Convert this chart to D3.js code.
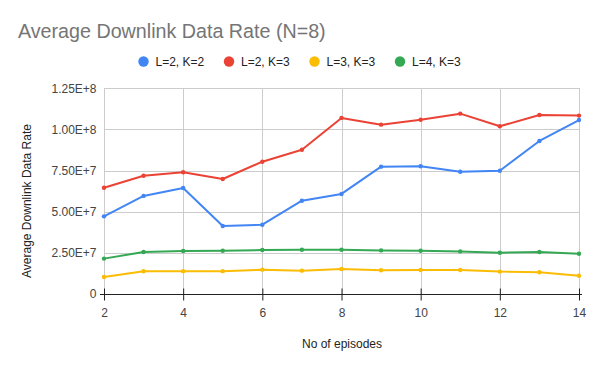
<!DOCTYPE html>
<html><head><meta charset="utf-8">
<script src="https://cdn.jsdelivr.net/npm/d3@7"></script>
<style>body{margin:0;background:#fff}svg{display:block;font-family:"Liberation Sans",Arial,sans-serif}</style>
</head><body>
<svg id="c" width="600" height="371"></svg>
<script>
const episodes = [2,3,4,5,6,7,8,9,10,11,12,13,14];
const seriesNames = ["L=2, K=2","L=2, K=3","L=3, K=3","L=4, K=3"];
const seriesColors = ["#4285f4","#ea4335","#fbbc04","#34a853"];
const l2k2 = [4.72e7,5.96e7,6.44e7,4.13e7,4.21e7,5.67e7,6.08e7,7.74e7,7.76e7,7.43e7,7.49e7,9.30e7,1.057e8];
const l2k3 = [6.46e7,7.19e7,7.40e7,6.99e7,8.04e7,8.77e7,1.07e8,1.029e8,1.059e8,1.096e8,1.019e8,1.088e8,1.084e8];
const l3k3 = [1.03e7,1.38e7,1.39e7,1.39e7,1.48e7,1.42e7,1.52e7,1.44e7,1.46e7,1.46e7,1.36e7,1.32e7,1.11e7];
const l4k3 = [2.15e7,2.55e7,2.61e7,2.63e7,2.67e7,2.69e7,2.69e7,2.65e7,2.63e7,2.59e7,2.51e7,2.55e7,2.45e7];
const yTicks = [0,2.5e7,5e7,7.5e7,1e8,1.25e8];
const yTickLabels = ["0","2.50E+7","5.00E+7","7.50E+7","1.00E+8","1.25E+8"];
const xTicks = [2,4,6,8,10,12,14];
const allSeries = [l2k2,l2k3,l3k3,l4k3];

const svg = d3.select("#c");
const x = d3.scaleLinear().domain([2,14]).range([104,579]);
const y = d3.scaleLinear().domain([0,1.25e8]).range([294,88.3]);

svg.append("text").attr("x",18).attr("y",38).attr("font-size",19.7).attr("fill","#757575").text("Average Downlink Data Rate (N=8)");

// grid
const g = svg.append("g");
g.selectAll("line.h").data(yTicks.slice(1)).enter().append("line")
 .attr("x1",104).attr("x2",579).attr("y1",d=>Math.round(y(d))+0.5).attr("y2",d=>Math.round(y(d))+0.5)
 .attr("stroke","#cccccc").attr("stroke-width",1);
g.selectAll("line.v").data(xTicks).enter().append("line")
 .attr("x1",d=>Math.round(x(d))+0.5).attr("x2",d=>Math.round(x(d))+0.5).attr("y1",88).attr("y2",294)
 .attr("stroke","#cccccc").attr("stroke-width",1);

// y tick labels
g.selectAll("text.yt").data(yTicks).enter().append("text")
 .attr("x",96.5).attr("y",d=>y(d)+4.2).attr("text-anchor","end").attr("font-size",12).attr("fill","#444")
 .text((d,i)=>yTickLabels[i]);

// x axis
const xa = svg.append("g").attr("transform","translate(0,294.5)")
 .call(d3.axisBottom(x).tickValues(xTicks).tickSize(6).tickPadding(6).tickFormat(d3.format("d")));
xa.select(".domain").attr("stroke","#222").attr("d","M100,0H582");
xa.selectAll(".tick line").attr("stroke","#222").attr("y1",-6).attr("y2",6);
xa.selectAll(".tick text").attr("font-size",12).attr("fill","#444").attr("font-family","Liberation Sans, Arial, sans-serif").attr("dy",0).attr("y",22.5);

// axis titles
svg.append("text").attr("x",342).attr("y",348.3).attr("text-anchor","middle").attr("font-size",12).attr("fill","#222").text("No of episodes");
svg.append("text").attr("transform","translate(30.5,201) rotate(-90)").attr("text-anchor","middle").attr("font-size",12).attr("fill","#222").text("Average Downlink Data Rate");

// lines
const line = d3.line().x((d,i)=>x(episodes[i])).y(d=>y(d));
const order = [2,3,0,1];
order.forEach(si=>{
  const data = allSeries[si];
  svg.append("path").datum(data).attr("d",line).attr("fill","none").attr("stroke",seriesColors[si]).attr("stroke-width",2).attr("stroke-linejoin","round");
  svg.selectAll(null).data(data).enter().append("circle").attr("cx",(d,i)=>x(episodes[i])).attr("cy",d=>y(d)).attr("r",2.2).attr("fill",seriesColors[si]);
});

// legend
const lx = [143.5,229,314.5,400];
seriesNames.forEach((n,i)=>{
  svg.append("circle").attr("cx",lx[i]).attr("cy",61.5).attr("r",5.2).attr("fill",seriesColors[i]);
  svg.append("text").attr("x",lx[i]+12).attr("y",65.8).attr("font-size",12).attr("fill","#222").text(n);
});
</script>
</body></html>
